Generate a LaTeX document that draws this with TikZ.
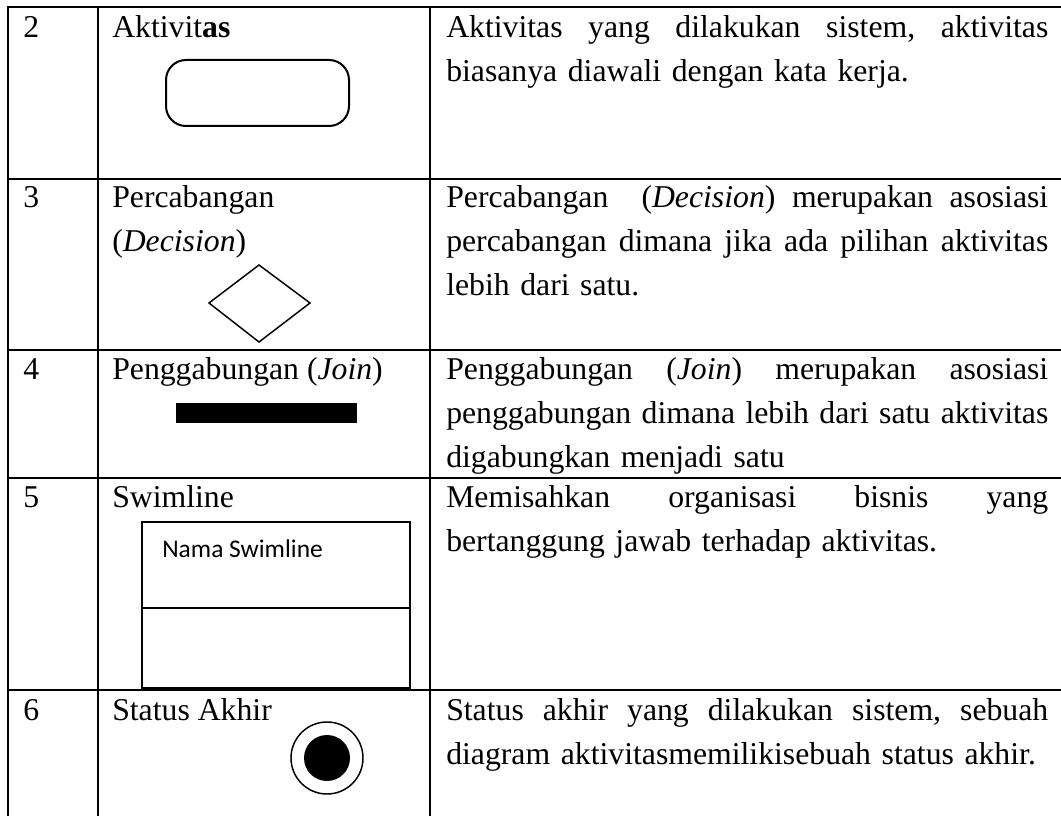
\documentclass[tikz,border=0pt]{standalone}
\usepackage{fontspec}
\setmainfont{Liberation Serif}
\newfontfamily\calibrifont{Carlito}
\newcommand{\justline}[1]{\leavevmode\hbox to 451.5pt{#1}}
\begin{document}
\begin{tikzpicture}[x=0.75pt,y=-0.75pt,
  gridline/.style={line width=1.9pt},
  txt/.style={anchor=base west, inner sep=0pt, font=\fontsize{23.8pt}{33pt}\selectfont},
  desc/.style={txt, text width=451.5pt, align=left},
  shapeline/.style={line width=1.5pt},
  thinline/.style={line width=1.1pt}]
\useasboundingbox (0,0) rectangle (1061,816);
\fill[white] (0,0) rectangle (1061,816);
% table grid
\draw[gridline] (8,7) -- (1061,7);
\draw[gridline] (8,179) -- (1061,179);
\draw[gridline] (8,350) -- (1061,350);
\draw[gridline] (8,478) -- (1061,478);
\draw[gridline] (8,690) -- (1061,690);
\draw[gridline] (8,6) -- (8,816);
\draw[gridline] (98,6) -- (98,816);
\draw[gridline] (430,6) -- (430,816);

% row 2
\node[txt] (n2) at (23,38) {2};
\node[txt] (a2) at (112,38) {Aktivit\textbf{as}};
\node[desc] (d2) at (446,38) {\justline{Aktivitas\hfill yang\hfill dilakukan\hfill sistem,\hfill aktivitas}\\biasanya diawali dengan kata kerja.};
\draw[shapeline, rounded corners=15pt] (166,60) rectangle (349,126);

% row 3
\node[txt] (n3) at (23,208) {3};
\node[txt] (a3) at (112,208) {Percabangan};
\node[txt] (a3b) at (112,252) {(\textit{Decision})};
\node[desc] (d3) at (446,208) {\justline{Percabangan\hfill\hfill (\textit{Decision})\hfill merupakan\hfill asosiasi}\\\justline{percabangan\hfill dimana\hfill jika\hfill ada\hfill pilihan\hfill aktivitas}\\lebih dari satu.};
\draw[thinline] (209,303) -- (259,265) -- (310,303) -- (259,342) -- cycle;

% row 4
\node[txt] (n4) at (23,380) {4};
\node[txt] (a4) at (112,380) {Penggabungan (\textit{Join})};
\node[desc] (d4) at (446,380) {\justline{Penggabungan\hfill (\textit{Join})\hfill merupakan\hfill asosiasi}\\\justline{penggabungan\hfill dimana\hfill lebih\hfill dari\hfill satu\hfill aktivitas}\\digabungkan menjadi satu};
\fill[black] (176,403) rectangle (357,423);

% row 5
\node[txt] (n5) at (23,508) {5};
\node[txt] (a5) at (112,508) {Swimline};
\node[desc] (d5) at (446,508) {\justline{Memisahkan\hfill organisasi\hfill bisnis\hfill yang}\\bertanggung jawab terhadap aktivitas.};
\draw[shapeline] (142,522) rectangle (410,688);
\draw[shapeline] (142,608) -- (410,608);
\node[anchor=base west, inner sep=0pt, font=\calibrifont\fontsize{19.1pt}{23pt}\selectfont] (sw) at (162,557) {Nama Swimline};

% row 6
\node[txt] (n6) at (23,720) {6};
\node[txt] (a6) at (112,720) {Status Akhir};
\node[desc] (d6) at (446,720) {\justline{Status\hfill akhir\hfill yang\hfill dilakukan\hfill sistem,\hfill sebuah}\\diagram aktivitasmemilikisebuah status akhir.};
\draw[thinline] (327,758) circle[radius=36];
\fill[black] (327,758) circle[radius=23];
\end{tikzpicture}
\end{document}
